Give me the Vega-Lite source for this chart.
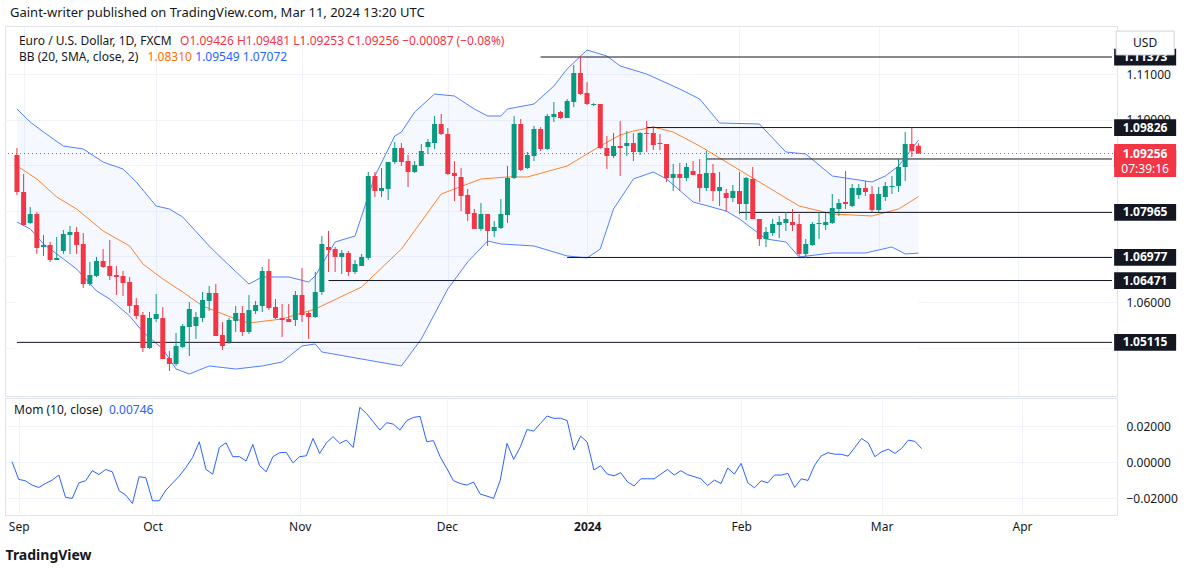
{
"$schema":"https://vega.github.io/schema/vega-lite/v6.json",
"padding":{"left":4,"top":6,"right":0,"bottom":6},
"background":"white",
"config":{"font":"Noto Sans","view":{"stroke":"#e0e3eb"},"axis":{"gridColor":"#f0f3fa","domain":false,"ticks":false,"labelFontSize":12,"labelColor":"#131722","labelFont":"Noto Sans"}},
"title":{"text":"Gaint-writer published on TradingView.com, Mar 11, 2024 13:20 UTC","anchor":"start","fontSize":13,"fontWeight":"normal","color":"#131722","offset":6,"dx":6},
"datasets":{
"candles":[
{"i":0,"o":1.09224,"c":1.08413,"h":1.09377,"l":1.08347},
{"i":1,"o":1.08413,"c":1.07689,"h":1.08807,"l":1.07689},
{"i":2,"o":1.07733,"c":1.07930,"h":1.08084,"l":1.07711},
{"i":3,"o":1.07930,"c":1.07185,"h":1.07974,"l":1.07054},
{"i":4,"o":1.07207,"c":1.07251,"h":1.07470,"l":1.07010},
{"i":5,"o":1.07251,"c":1.06922,"h":1.07317,"l":1.06878},
{"i":6,"o":1.06922,"c":1.06966,"h":1.07426,"l":1.06922},
{"i":7,"o":1.07119,"c":1.07492,"h":1.07580,"l":1.07054},
{"i":8,"o":1.07470,"c":1.07536,"h":1.07667,"l":1.07054},
{"i":9,"o":1.07536,"c":1.07251,"h":1.07645,"l":1.07054},
{"i":10,"o":1.07273,"c":1.06395,"h":1.07514,"l":1.06308},
{"i":11,"o":1.06395,"c":1.06593,"h":1.06878,"l":1.06352},
{"i":12,"o":1.06571,"c":1.06900,"h":1.06988,"l":1.06549},
{"i":13,"o":1.06900,"c":1.06768,"h":1.07163,"l":1.06747},
{"i":14,"o":1.06790,"c":1.06571,"h":1.07360,"l":1.06483},
{"i":15,"o":1.06593,"c":1.06549,"h":1.06790,"l":1.06154},
{"i":16,"o":1.06571,"c":1.06417,"h":1.06681,"l":1.06132},
{"i":17,"o":1.06439,"c":1.05913,"h":1.06549,"l":1.05759},
{"i":18,"o":1.05935,"c":1.05693,"h":1.06088,"l":1.05628},
{"i":19,"o":1.05715,"c":1.04992,"h":1.05781,"l":1.04904},
{"i":20,"o":1.04992,"c":1.05650,"h":1.05781,"l":1.04970},
{"i":21,"o":1.05628,"c":1.05737,"h":1.06176,"l":1.05562},
{"i":22,"o":1.05650,"c":1.04750,"h":1.05891,"l":1.04750},
{"i":23,"o":1.04772,"c":1.04641,"h":1.04926,"l":1.04487},
{"i":24,"o":1.04641,"c":1.05036,"h":1.05321,"l":1.04597},
{"i":25,"o":1.05014,"c":1.05474,"h":1.05518,"l":1.04992},
{"i":26,"o":1.05452,"c":1.05847,"h":1.06000,"l":1.04816},
{"i":27,"o":1.05474,"c":1.05671,"h":1.05781,"l":1.05189},
{"i":28,"o":1.05650,"c":1.06044,"h":1.06220,"l":1.05562},
{"i":29,"o":1.06022,"c":1.06198,"h":1.06352,"l":1.05803},
{"i":30,"o":1.06198,"c":1.05255,"h":1.06395,"l":1.05255},
{"i":31,"o":1.05277,"c":1.05036,"h":1.05562,"l":1.04948},
{"i":32,"o":1.05123,"c":1.05606,"h":1.05650,"l":1.05080},
{"i":33,"o":1.05584,"c":1.05759,"h":1.05913,"l":1.05343},
{"i":34,"o":1.05759,"c":1.05343,"h":1.05913,"l":1.05255},
{"i":35,"o":1.05343,"c":1.05825,"h":1.06154,"l":1.05299},
{"i":36,"o":1.05803,"c":1.05935,"h":1.06022,"l":1.05737},
{"i":37,"o":1.05913,"c":1.06681,"h":1.06768,"l":1.05781},
{"i":38,"o":1.06681,"c":1.05869,"h":1.06944,"l":1.05825},
{"i":39,"o":1.05891,"c":1.05650,"h":1.06066,"l":1.05628},
{"i":40,"o":1.05650,"c":1.05606,"h":1.05957,"l":1.05233},
{"i":41,"o":1.05628,"c":1.05562,"h":1.05957,"l":1.05562},
{"i":42,"o":1.05606,"c":1.06154,"h":1.06242,"l":1.05474},
{"i":43,"o":1.06154,"c":1.05715,"h":1.06747,"l":1.05562},
{"i":44,"o":1.05759,"c":1.05671,"h":1.05803,"l":1.05189},
{"i":45,"o":1.05671,"c":1.06220,"h":1.06659,"l":1.05650},
{"i":46,"o":1.06220,"c":1.07273,"h":1.07448,"l":1.06154},
{"i":47,"o":1.07207,"c":1.07141,"h":1.07558,"l":1.06659},
{"i":48,"o":1.07163,"c":1.06988,"h":1.07207,"l":1.06659},
{"i":49,"o":1.06988,"c":1.07075,"h":1.07141,"l":1.06615},
{"i":50,"o":1.07075,"c":1.06659,"h":1.07119,"l":1.06571},
{"i":51,"o":1.06659,"c":1.06834,"h":1.06922,"l":1.06615},
{"i":52,"o":1.06790,"c":1.06988,"h":1.07054,"l":1.06790},
{"i":53,"o":1.06966,"c":1.08764,"h":1.08851,"l":1.06922},
{"i":54,"o":1.08764,"c":1.08435,"h":1.08851,"l":1.08303},
{"i":55,"o":1.08435,"c":1.08500,"h":1.08939,"l":1.08303},
{"i":56,"o":1.08479,"c":1.09070,"h":1.09070,"l":1.08237},
{"i":57,"o":1.09070,"c":1.09377,"h":1.09509,"l":1.09027},
{"i":58,"o":1.09377,"c":1.09070,"h":1.09487,"l":1.08983},
{"i":59,"o":1.09092,"c":1.08851,"h":1.09224,"l":1.08522},
{"i":60,"o":1.08851,"c":1.09005,"h":1.09092,"l":1.08829},
{"i":61,"o":1.08983,"c":1.09312,"h":1.09465,"l":1.08983},
{"i":62,"o":1.09399,"c":1.09509,"h":1.09575,"l":1.09246},
{"i":63,"o":1.09487,"c":1.09904,"h":1.10079,"l":1.09356},
{"i":64,"o":1.09904,"c":1.09684,"h":1.10123,"l":1.09662},
{"i":65,"o":1.09684,"c":1.08807,"h":1.09816,"l":1.08785},
{"i":66,"o":1.08829,"c":1.08764,"h":1.09092,"l":1.08215},
{"i":67,"o":1.08742,"c":1.08325,"h":1.08939,"l":1.07996},
{"i":68,"o":1.08347,"c":1.07930,"h":1.08479,"l":1.07777},
{"i":69,"o":1.07952,"c":1.07602,"h":1.08040,"l":1.07602},
{"i":70,"o":1.07602,"c":1.07930,"h":1.08172,"l":1.07558},
{"i":71,"o":1.07930,"c":1.07558,"h":1.07930,"l":1.07229},
{"i":72,"o":1.07558,"c":1.07645,"h":1.07777,"l":1.07426},
{"i":73,"o":1.07624,"c":1.07930,"h":1.08259,"l":1.07602},
{"i":74,"o":1.07908,"c":1.08720,"h":1.08983,"l":1.07733},
{"i":75,"o":1.08720,"c":1.09904,"h":1.10079,"l":1.08698},
{"i":76,"o":1.09904,"c":1.08895,"h":1.10013,"l":1.08873},
{"i":77,"o":1.08939,"c":1.09224,"h":1.09290,"l":1.08917},
{"i":78,"o":1.09202,"c":1.09794,"h":1.09860,"l":1.09092},
{"i":79,"o":1.09794,"c":1.09356,"h":1.09838,"l":1.09312},
{"i":80,"o":1.09356,"c":1.10079,"h":1.10123,"l":1.09334},
{"i":81,"o":1.10057,"c":1.10123,"h":1.10386,"l":1.09948},
{"i":82,"o":1.10167,"c":1.10035,"h":1.10189,"l":1.10013},
{"i":83,"o":1.10035,"c":1.10408,"h":1.10452,"l":1.10035},
{"i":84,"o":1.10386,"c":1.11022,"h":1.11198,"l":1.10277},
{"i":85,"o":1.11022,"c":1.10562,"h":1.11395,"l":1.10540},
{"i":86,"o":1.10584,"c":1.10342,"h":1.10825,"l":1.10320},
{"i":87,"o":1.10320,"c":1.10342,"h":1.10360,"l":1.10300},
{"i":88,"o":1.10342,"c":1.09377,"h":1.10342,"l":1.09356},
{"i":89,"o":1.09377,"c":1.09202,"h":1.09641,"l":1.08917},
{"i":90,"o":1.09202,"c":1.09421,"h":1.09706,"l":1.09158},
{"i":91,"o":1.09421,"c":1.09377,"h":1.09970,"l":1.08764},
{"i":92,"o":1.09421,"c":1.09487,"h":1.09750,"l":1.09202},
{"i":93,"o":1.09487,"c":1.09290,"h":1.09706,"l":1.09092},
{"i":94,"o":1.09290,"c":1.09706,"h":1.09728,"l":1.09224},
{"i":95,"o":1.09706,"c":1.09684,"h":1.09970,"l":1.09290},
{"i":96,"o":1.09706,"c":1.09443,"h":1.09860,"l":1.09334},
{"i":97,"o":1.09487,"c":1.09465,"h":1.09684,"l":1.09334},
{"i":98,"o":1.09465,"c":1.08720,"h":1.09465,"l":1.08632},
{"i":99,"o":1.08720,"c":1.08807,"h":1.09027,"l":1.08435},
{"i":100,"o":1.08807,"c":1.08720,"h":1.09049,"l":1.08435},
{"i":101,"o":1.08720,"c":1.08961,"h":1.09049,"l":1.08654},
{"i":102,"o":1.08873,"c":1.08785,"h":1.09092,"l":1.08785},
{"i":103,"o":1.08807,"c":1.08500,"h":1.09136,"l":1.08194},
{"i":104,"o":1.08500,"c":1.08829,"h":1.09312,"l":1.08435},
{"i":105,"o":1.08829,"c":1.08435,"h":1.09027,"l":1.08215},
{"i":106,"o":1.08435,"c":1.08522,"h":1.08851,"l":1.08106},
{"i":107,"o":1.08391,"c":1.08281,"h":1.08479,"l":1.07974},
{"i":108,"o":1.08281,"c":1.08435,"h":1.08566,"l":1.08194},
{"i":109,"o":1.08435,"c":1.08150,"h":1.08851,"l":1.07930},
{"i":110,"o":1.08150,"c":1.08720,"h":1.08742,"l":1.07799},
{"i":111,"o":1.08698,"c":1.07821,"h":1.08961,"l":1.07821},
{"i":112,"o":1.07821,"c":1.07382,"h":1.07821,"l":1.07229},
{"i":113,"o":1.07382,"c":1.07536,"h":1.07645,"l":1.07207},
{"i":114,"o":1.07514,"c":1.07711,"h":1.07821,"l":1.07448},
{"i":115,"o":1.07689,"c":1.07755,"h":1.07887,"l":1.07404},
{"i":116,"o":1.07733,"c":1.07821,"h":1.07974,"l":1.07558},
{"i":117,"o":1.07755,"c":1.07689,"h":1.08040,"l":1.07558},
{"i":118,"o":1.07711,"c":1.07054,"h":1.07930,"l":1.07010},
{"i":119,"o":1.07054,"c":1.07273,"h":1.07382,"l":1.06966},
{"i":120,"o":1.07251,"c":1.07711,"h":1.07755,"l":1.07229},
{"i":121,"o":1.07711,"c":1.07733,"h":1.07974,"l":1.07382},
{"i":122,"o":1.07689,"c":1.07755,"h":1.07952,"l":1.07580},
{"i":123,"o":1.07733,"c":1.08062,"h":1.08369,"l":1.07711},
{"i":124,"o":1.08040,"c":1.08172,"h":1.08259,"l":1.07887},
{"i":125,"o":1.08194,"c":1.08150,"h":1.08873,"l":1.08040},
{"i":126,"o":1.08106,"c":1.08500,"h":1.08588,"l":1.08084},
{"i":127,"o":1.08347,"c":1.08500,"h":1.08588,"l":1.08259},
{"i":128,"o":1.08500,"c":1.08413,"h":1.08654,"l":1.08325},
{"i":129,"o":1.08369,"c":1.08018,"h":1.08544,"l":1.07974},
{"i":130,"o":1.08018,"c":1.08369,"h":1.08522,"l":1.07974},
{"i":131,"o":1.08303,"c":1.08544,"h":1.08632,"l":1.08215},
{"i":132,"o":1.08522,"c":1.08544,"h":1.08764,"l":1.08369},
{"i":133,"o":1.08544,"c":1.08961,"h":1.09136,"l":1.08413},
{"i":134,"o":1.08961,"c":1.09465,"h":1.09728,"l":1.08654},
{"i":135,"o":1.09465,"c":1.09312,"h":1.09826,"l":1.09180},
{"i":136,"o":1.09426,"c":1.09256,"h":1.09481,"l":1.09253}
],
"bbu":[{"i":0,"v":1.10233},{"i":2,"v":1.09948},{"i":4,"v":1.09728},{"i":7,"v":1.09421},{"i":10,"v":1.09356},{"i":13,"v":1.09070},{"i":16,"v":1.08917},{"i":18,"v":1.08632},{"i":21,"v":1.08106},{"i":23,"v":1.08040},{"i":25,"v":1.07865},{"i":29,"v":1.07229},{"i":31,"v":1.06944},{"i":35,"v":1.06395},{"i":37,"v":1.06549},{"i":41,"v":1.06549},{"i":44,"v":1.06439},{"i":45,"v":1.06571},{"i":48,"v":1.07317},{"i":51,"v":1.07448},{"i":52,"v":1.07887},{"i":54,"v":1.08764},{"i":57,"v":1.09641},{"i":58,"v":1.09728},{"i":60,"v":1.10167},{"i":63,"v":1.10562},{"i":66,"v":1.10518},{"i":69,"v":1.10233},{"i":71,"v":1.10079},{"i":73,"v":1.10079},{"i":74,"v":1.10233},{"i":78,"v":1.10342},{"i":81,"v":1.10737},{"i":83,"v":1.11110},{"i":86,"v":1.11527},{"i":89,"v":1.11395},{"i":91,"v":1.11176},{"i":95,"v":1.11000},{"i":100,"v":1.10671},{"i":103,"v":1.10452},{"i":106,"v":1.09926},{"i":112,"v":1.09904},{"i":116,"v":1.09290},{"i":119,"v":1.09246},{"i":123,"v":1.08764},{"i":126,"v":1.08698},{"i":129,"v":1.08632},{"i":131,"v":1.08764},{"i":133,"v":1.08983},{"i":136,"v":1.09549}],
"bbm":[{"i":0,"v":1.08983},{"i":3,"v":1.08698},{"i":6,"v":1.08303},{"i":9,"v":1.08040},{"i":13,"v":1.07558},{"i":17,"v":1.07229},{"i":19,"v":1.06834},{"i":22,"v":1.06505},{"i":25,"v":1.06220},{"i":28,"v":1.05913},{"i":33,"v":1.05628},{"i":35,"v":1.05540},{"i":40,"v":1.05628},{"i":45,"v":1.05847},{"i":52,"v":1.06330},{"i":58,"v":1.07163},{"i":64,"v":1.08369},{"i":70,"v":1.08698},{"i":74,"v":1.08742},{"i":77,"v":1.08742},{"i":83,"v":1.08983},{"i":88,"v":1.09421},{"i":91,"v":1.09662},{"i":93,"v":1.09750},{"i":96,"v":1.09838},{"i":99,"v":1.09728},{"i":103,"v":1.09421},{"i":108,"v":1.08983},{"i":113,"v":1.08544},{"i":118,"v":1.08106},{"i":123,"v":1.07930},{"i":129,"v":1.07887},{"i":133,"v":1.08040},{"i":136,"v":1.08310}],
"bbl":[{"i":0,"v":1.07755},{"i":2,"v":1.07602},{"i":4,"v":1.07273},{"i":7,"v":1.06944},{"i":9,"v":1.06724},{"i":12,"v":1.06242},{"i":14,"v":1.06066},{"i":17,"v":1.05693},{"i":19,"v":1.05343},{"i":22,"v":1.04970},{"i":24,"v":1.04531},{"i":26,"v":1.04421},{"i":29,"v":1.04597},{"i":33,"v":1.04531},{"i":37,"v":1.04597},{"i":40,"v":1.04684},{"i":43,"v":1.05036},{"i":45,"v":1.05080},{"i":46,"v":1.04904},{"i":52,"v":1.04750},{"i":58,"v":1.04597},{"i":61,"v":1.05189},{"i":65,"v":1.06286},{"i":68,"v":1.06878},{"i":71,"v":1.07338},{"i":73,"v":1.07273},{"i":78,"v":1.07229},{"i":83,"v":1.07010},{"i":86,"v":1.06966},{"i":88,"v":1.07163},{"i":90,"v":1.08040},{"i":93,"v":1.08698},{"i":96,"v":1.08851},{"i":98,"v":1.08698},{"i":102,"v":1.08194},{"i":107,"v":1.07996},{"i":109,"v":1.07821},{"i":113,"v":1.07382},{"i":116,"v":1.07317},{"i":118,"v":1.06988},{"i":123,"v":1.07075},{"i":128,"v":1.07075},{"i":132,"v":1.07207},{"i":134,"v":1.07054},{"i":136,"v":1.07072}],
"levels":[{"v":1.11373,"s":79,"lab":"1.11373"},{"v":1.09826,"s":95,"lab":"1.09826"},{"v":1.09137,"s":104,"lab":"1.09137"},{"v":1.07965,"s":109,"lab":"1.07965"},{"v":1.06977,"s":83,"lab":"1.06977"},{"v":1.06471,"s":47,"lab":"1.06471"},{"v":1.05115,"s":0,"lab":"1.05115"}],
"mom":[{"i":0,"m":0.0002},{"i":1,"m":-0.0096},{"i":2,"m":-0.0104},{"i":3,"m":-0.0128},{"i":4,"m":-0.0141},{"i":5,"m":-0.0119},{"i":6,"m":-0.0100},{"i":7,"m":-0.0072},{"i":8,"m":-0.0196},{"i":9,"m":-0.0202},{"i":10,"m":-0.0115},{"i":11,"m":-0.0104},{"i":12,"m":-0.0048},{"i":13,"m":-0.0069},{"i":14,"m":-0.0041},{"i":15,"m":-0.0054},{"i":16,"m":-0.0159},{"i":17,"m":-0.0183},{"i":18,"m":-0.0230},{"i":19,"m":-0.0081},{"i":20,"m":-0.0087},{"i":21,"m":-0.0215},{"i":22,"m":-0.0215},{"i":23,"m":-0.0156},{"i":24,"m":-0.0117},{"i":25,"m":-0.0078},{"i":26,"m":-0.0030},{"i":27,"m":0.0026},{"i":28,"m":0.0113},{"i":29,"m":-0.0041},{"i":30,"m":-0.0067},{"i":31,"m":0.0081},{"i":32,"m":0.0107},{"i":33,"m":0.0030},{"i":34,"m":0.0030},{"i":35,"m":0.0006},{"i":36,"m":0.0098},{"i":37,"m":-0.0019},{"i":38,"m":-0.0054},{"i":39,"m":0.0030},{"i":40,"m":0.0052},{"i":41,"m":0.0054},{"i":42,"m":-0.0004},{"i":43,"m":0.0030},{"i":44,"m":0.0035},{"i":45,"m":0.0131},{"i":46,"m":0.0048},{"i":47,"m":0.0107},{"i":48,"m":0.0141},{"i":49,"m":0.0104},{"i":50,"m":0.0122},{"i":51,"m":0.0081},{"i":52,"m":0.0304},{"i":53,"m":0.0270},{"i":54,"m":0.0224},{"i":55,"m":0.0178},{"i":56,"m":0.0219},{"i":57,"m":0.0211},{"i":58,"m":0.0178},{"i":59,"m":0.0230},{"i":60,"m":0.0248},{"i":61,"m":0.0254},{"i":62,"m":0.0113},{"i":63,"m":0.0119},{"i":64,"m":0.0030},{"i":65,"m":-0.0035},{"i":66,"m":-0.0104},{"i":67,"m":-0.0119},{"i":68,"m":-0.0128},{"i":69,"m":-0.0111},{"i":70,"m":-0.0178},{"i":71,"m":-0.0189},{"i":72,"m":-0.0202},{"i":73,"m":-0.0100},{"i":74,"m":0.0104},{"i":75,"m":0.0015},{"i":76,"m":0.0085},{"i":77,"m":0.0181},{"i":78,"m":0.0172},{"i":79,"m":0.0215},{"i":80,"m":0.0256},{"i":81,"m":0.0243},{"i":82,"m":0.0244},{"i":83,"m":0.0230},{"i":84,"m":0.0067},{"i":85,"m":0.0144},{"i":86,"m":0.0111},{"i":87,"m":-0.0044},{"i":88,"m":-0.0020},{"i":89,"m":-0.0067},{"i":90,"m":-0.0076},{"i":91,"m":-0.0059},{"i":92,"m":-0.0109},{"i":93,"m":-0.0133},{"i":94,"m":-0.0093},{"i":95,"m":-0.0093},{"i":96,"m":-0.0093},{"i":97,"m":-0.0067},{"i":98,"m":-0.0041},{"i":99,"m":-0.0072},{"i":100,"m":-0.0048},{"i":101,"m":-0.0070},{"i":102,"m":-0.0081},{"i":103,"m":-0.0093},{"i":104,"m":-0.0130},{"i":105,"m":-0.0100},{"i":106,"m":-0.0119},{"i":107,"m":-0.0033},{"i":108,"m":-0.0067},{"i":109,"m":-0.0007},{"i":110,"m":-0.0115},{"i":111,"m":-0.0143},{"i":112,"m":-0.0104},{"i":113,"m":-0.0115},{"i":114,"m":-0.0072},{"i":115,"m":-0.0072},{"i":116,"m":-0.0063},{"i":117,"m":-0.0141},{"i":118,"m":-0.0093},{"i":119,"m":-0.0102},{"i":120,"m":-0.0017},{"i":121,"m":0.0035},{"i":122,"m":0.0052},{"i":123,"m":0.0044},{"i":124,"m":0.0043},{"i":125,"m":0.0033},{"i":126,"m":0.0081},{"i":127,"m":0.0131},{"i":128,"m":0.0107},{"i":129,"m":0.0030},{"i":130,"m":0.0057},{"i":131,"m":0.0072},{"i":132,"m":0.0048},{"i":133,"m":0.0076},{"i":134,"m":0.0122},{"i":135,"m":0.0115},{"i":136,"m":0.00746}]
},
"spacing":0,
"vconcat":[
{"width":1112,"height":370,
"layer":[
{"data":{"name":"bbu"},"mark":{"type":"area","color":"#2962ff","opacity":0.045},
 "encoding":{"x":{"field":"i","type":"quantitative","scale":{"domain":[-1.05,165.2],"nice":false,"zero":false},"axis":{"values":[1,21,43,65,86,109,130,151],"labels":false,"title":null,"grid":true}},
  "y":{"field":"v","type":"quantitative","scale":{"domain":[1.03939,1.12053],"nice":false,"zero":false},"axis":{"orient":"right","values":[1.05,1.06,1.07,1.08,1.09,1.1,1.11],"format":".5f","labelExpr":"(abs(datum.value-1.06)<0.0001 || abs(datum.value-1.11)<0.0001 || abs(datum.value-1.1)<0.0001) ? datum.label : ''","title":null,"grid":true,"labelPadding":9}},
  "y2":{"datum":1.03939}}},
{"data":{"name":"bbl"},"mark":{"type":"area","color":"white","opacity":1},
 "encoding":{"x":{"field":"i","type":"quantitative"},"y":{"field":"v","type":"quantitative"},"y2":{"datum":1.03939}}},
{"data":{"name":"bbu"},"mark":{"type":"line","color":"#2962ff","strokeWidth":1,"opacity":0.8},"encoding":{"x":{"field":"i","type":"quantitative"},"y":{"field":"v","type":"quantitative"}}},
{"data":{"name":"bbl"},"mark":{"type":"line","color":"#2962ff","strokeWidth":1,"opacity":0.8},"encoding":{"x":{"field":"i","type":"quantitative"},"y":{"field":"v","type":"quantitative"}}},
{"data":{"name":"bbm"},"mark":{"type":"line","color":"#ff6d00","strokeWidth":1,"opacity":0.85},"encoding":{"x":{"field":"i","type":"quantitative"},"y":{"field":"v","type":"quantitative"}}},
{"data":{"name":"levels"},"mark":{"type":"rule","color":"#131722","strokeWidth":1},"encoding":{"x":{"field":"s","type":"quantitative"},"x2":{"datum":165.2},"y":{"field":"v","type":"quantitative"}}},
{"data":{"values":[{}]},"mark":{"type":"rule","color":"#f23645","strokeDash":[1,3],"strokeWidth":1},"encoding":{"y":{"datum":1.09256}}},
{"data":{"name":"candles"},"mark":{"type":"rule","strokeWidth":1},"encoding":{"x":{"field":"i","type":"quantitative"},"y":{"field":"l","type":"quantitative"},"y2":{"field":"h"},"color":{"condition":{"test":"datum.c >= datum.o","value":"#089981"},"value":"#f23645"}}},
{"data":{"name":"candles"},"mark":{"type":"bar","size":5},"encoding":{"x":{"field":"i","type":"quantitative"},"y":{"field":"o","type":"quantitative"},"y2":{"field":"c"},"color":{"condition":{"test":"datum.c >= datum.o","value":"#089981"},"value":"#f23645"}}},
{"data":{"values":[{}]},"mark":{"type":"text","align":"left","baseline":"middle","fontSize":12,"color":"#131722"},"encoding":{"x":{"datum":0.3},"y":{"datum":1.11724},"text":{"value":"Euro / U.S. Dollar, 1D, FXCM"}}},
{"data":{"values":[{}]},"mark":{"type":"text","align":"left","baseline":"middle","fontSize":12,"color":"#f23645"},"encoding":{"x":{"datum":24.6},"y":{"datum":1.11724},"text":{"value":"O1.09426  H1.09481  L1.09253  C1.09256  −0.00087 (−0.08%)"}}},
{"data":{"values":[{}]},"mark":{"type":"text","align":"left","baseline":"middle","fontSize":12,"color":"#131722"},"encoding":{"x":{"datum":0.3},"y":{"datum":1.11373},"text":{"value":"BB (20, SMA, close, 2)"}}},
{"data":{"values":[{}]},"mark":{"type":"text","align":"left","baseline":"middle","fontSize":12,"color":"#ff6d00"},"encoding":{"x":{"datum":19.7},"y":{"datum":1.11373},"text":{"value":"1.08310"}}},
{"data":{"values":[{}]},"mark":{"type":"text","align":"left","baseline":"middle","fontSize":12,"color":"#2962ff"},"encoding":{"x":{"datum":26.9},"y":{"datum":1.11373},"text":{"value":"1.09549  1.07072"}}},
{"data":{"name":"levels"},"mark":{"type":"point","filled":true,"opacity":1,"shape":"M-1,-0.27H1V0.27H-1Z","size":3844,"color":"#131722"},"encoding":{"x":{"datum":170.2},"y":{"field":"v","type":"quantitative"}}},
{"data":{"name":"levels"},"mark":{"type":"text","color":"white","fontWeight":"bold","fontSize":12,"baseline":"middle"},"encoding":{"x":{"datum":170.2},"y":{"field":"v","type":"quantitative"},"text":{"field":"lab"}}},
{"data":{"values":[{}]},"mark":{"type":"point","filled":true,"opacity":1,"shape":"M-1,-0.31H1V0.76H-1Z","size":3844,"color":"#f23645"},"encoding":{"x":{"datum":170.2},"y":{"datum":1.09256}}},
{"data":{"values":[{}]},"mark":{"type":"text","color":"white","fontWeight":"bold","fontSize":12,"baseline":"middle"},"encoding":{"x":{"datum":170.2},"y":{"datum":1.09256},"text":{"value":"1.09256"}}},
{"data":{"values":[{}]},"mark":{"type":"text","color":"white","fontSize":12,"baseline":"middle","dy":15},"encoding":{"x":{"datum":170.2},"y":{"datum":1.09256},"text":{"value":"07:39:16"}}},
{"data":{"values":[{}]},"mark":{"type":"point","filled":true,"opacity":1,"shape":"M-1,-0.41H1V0.41H-1Z","size":3364,"color":"white","stroke":"#d1d4dc","strokeWidth":1},"encoding":{"x":{"datum":170.2},"y":{"datum":1.1168}}},
{"data":{"values":[{}]},"mark":{"type":"text","color":"#131722","fontSize":12,"baseline":"middle"},"encoding":{"x":{"datum":170.2},"y":{"datum":1.1168},"text":{"value":"USD"}}}
]},
{"width":1112,"height":117,
"layer":[
{"data":{"name":"mom"},"mark":{"type":"line","color":"#2962ff","strokeWidth":1},
 "encoding":{"x":{"field":"i","type":"quantitative","scale":{"domain":[-1.05,165.2],"nice":false,"zero":false},"axis":{"values":[1,21,43,65,86,109,130,151],"labelExpr":"datum.value==1?'Sep':datum.value==21?'Oct':datum.value==43?'Nov':datum.value==65?'Dec':datum.value==86?'2024':datum.value==109?'Feb':datum.value==130?'Mar':'Apr'","labelFontWeight":{"condition":{"test":"datum.value==86","value":"bold"},"value":"normal"},"labelPadding":6,"grid":true,"title":"TradingView","titleAnchor":"start","titleFontSize":14,"titleFontWeight":"bold","titleColor":"#131722","titlePadding":16}},
  "y":{"field":"m","type":"quantitative","scale":{"domain":[-0.0294,0.0356],"nice":false,"zero":false},"axis":{"orient":"right","values":[-0.02,0,0.02],"format":".5f","title":null,"grid":true,"labelPadding":9}}}},
{"data":{"values":[{}]},"mark":{"type":"text","align":"left","baseline":"middle","fontSize":12,"color":"#131722"},"encoding":{"x":{"datum":0.3},"y":{"datum":0.0289},"text":{"value":"Mom (10, close)"}}},
{"data":{"values":[{}]},"mark":{"type":"text","align":"left","baseline":"middle","fontSize":12,"color":"#2962ff"},"encoding":{"x":{"datum":14.5},"y":{"datum":0.0289},"text":{"value":"0.00746"}}}
]}
]
}
